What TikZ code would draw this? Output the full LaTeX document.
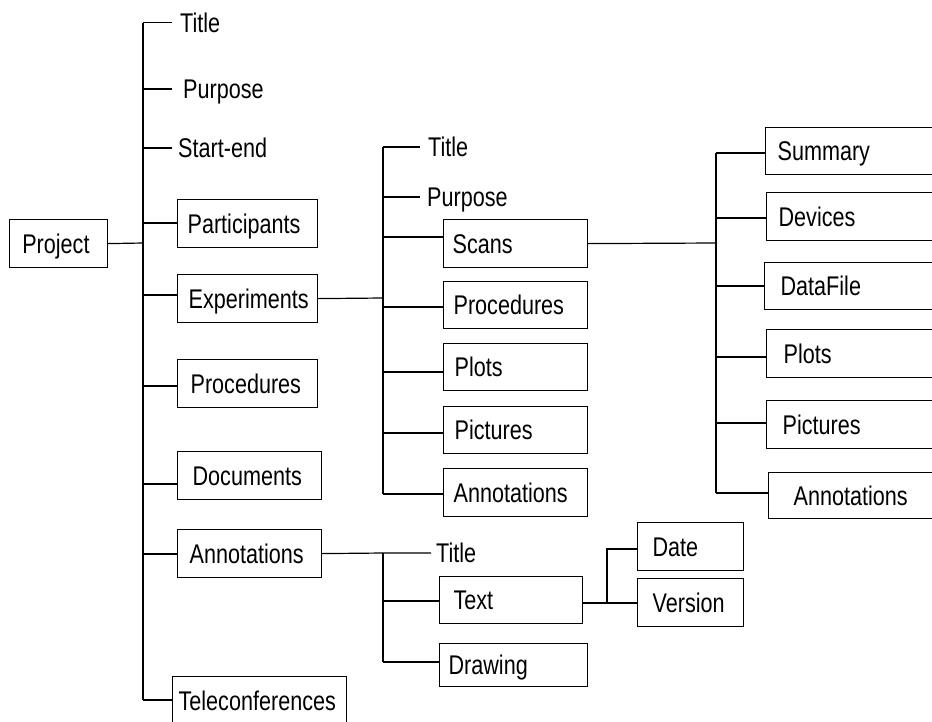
\documentclass[tikz,border=0pt]{standalone}
\usepackage{fontspec}
\setmainfont{Liberation Sans}[FakeStretch=0.8]
\begin{document}
\begin{tikzpicture}[x=1pt,y=-1pt,
  font=\fontsize{27pt}{32pt}\selectfont,
  wire/.style={line width=1.2pt},
  box/.style={draw, line width=1.2pt, rectangle, anchor=north west, align=left,
    inner ysep=0pt, text height=19.3pt, text depth=0pt},
  lbl/.style={anchor=west, inner ysep=0pt, text height=19.3pt, text depth=0pt}]
\useasboundingbox (0,0) rectangle (932,721);
\clip (0,0) rectangle (932,721);

% ---- root and first level
\node[box, minimum width=98pt, minimum height=48pt, inner xsep=12.7pt, text width=72.6pt] (project) at (9,219) {Project};

\node[lbl, inner xsep=8pt]  (title1)   at (172,22.7) {Title};
\node[lbl, inner xsep=11pt] (purpose1) at (172,89)   {Purpose};
\node[lbl, inner xsep=6pt]  (start1)   at (172,148)  {Start-end};
\node[box, minimum width=140pt, minimum height=48pt, inner xsep=10pt, text width=120pt] (participants) at (177,199) {Participants};
\node[box, minimum width=140pt, minimum height=48pt, inner xsep=11pt, text width=118pt] (experiments) at (177,274) {Experiments};
\node[box, minimum width=140pt, minimum height=48pt, inner xsep=13pt, text width=114pt] (procedures) at (177,359) {Procedures};
\node[box, minimum width=144pt, minimum height=48pt, inner xsep=15pt, text width=114pt] (documents) at (177,451) {Documents};
\node[box, minimum width=144pt, minimum height=48pt, inner xsep=12pt, text width=120pt] (annotations) at (177,529) {Annotations};
\node[box, minimum width=174pt, minimum height=48pt, inner xsep=6pt, text width=162pt] (telecon) at (172,676) {Teleconferences};

% ---- experiments subtree
\node[lbl, inner xsep=8pt] (title2)   at (420,147) {Title};
\node[lbl, inner xsep=7pt] (purpose2) at (420,197) {Purpose};
\node[box, minimum width=144pt, minimum height=48pt, inner xsep=9pt,  text width=126pt] (scans) at (443,219) {Scans};
\node[box, minimum width=144pt, minimum height=47pt, inner xsep=10pt, text width=124pt] (procedures2) at (443,281) {Procedures};
\node[box, minimum width=144pt, minimum height=47pt, inner xsep=11pt, text width=122pt] (plots2) at (443,343) {Plots};
\node[box, minimum width=144pt, minimum height=47pt, inner xsep=11pt, text width=122pt] (pictures2) at (443,406) {Pictures};
\node[box, minimum width=144pt, minimum height=48pt, inner xsep=10pt, text width=124pt] (annot2) at (443,468) {Annotations};

% ---- scans subtree
\node[box, minimum width=185pt, minimum height=47pt, inner xsep=12pt, text width=161pt] (summary) at (765,127) {Summary};
\node[box, minimum width=184pt, minimum height=48pt, inner xsep=12pt, text width=160pt] (devices) at (766,192) {Devices};
\node[box, minimum width=186pt, minimum height=47pt, inner xsep=16pt, text width=154pt] (datafile) at (764,262) {DataFile};
\node[box, minimum width=184pt, minimum height=48pt, inner xsep=17pt, text width=150pt] (plots3) at (766,329) {Plots};
\node[box, minimum width=184pt, minimum height=48pt, inner xsep=16pt, text width=152pt] (pictures3) at (766,400) {Pictures};
\node[box, minimum width=182pt, minimum height=46pt, inner xsep=25pt, text width=132pt] (annot3) at (768,472) {Annotations};

% ---- annotations subtree
\node[lbl, inner xsep=5pt] (title3) at (431,553) {Title};
\node[box, minimum width=143pt, minimum height=47pt, inner xsep=14pt, text width=115pt] (text3) at (439,576) {Text};
\node[box, minimum width=148pt, minimum height=43pt, inner xsep=9pt,  text width=130pt] (drawing) at (439,643) {Drawing};
\node[box, minimum width=106pt, minimum height=48pt, inner xsep=15pt, text width=76pt] (date) at (637,522) {Date};
\node[box, minimum width=106pt, minimum height=48pt, inner xsep=15pt, text width=76pt] (version) at (637,578) {Version};

% ---- junction points
\coordinate (mt)  at (143,22.7);
\coordinate (mp)  at (143,89);
\coordinate (ms)  at (143,148);
\coordinate (mpa) at (143,223);
\coordinate (mj)  at (143,243);
\coordinate (mx)  at (143,295);
\coordinate (mpr) at (143,386);
\coordinate (md)  at (143,484);
\coordinate (ma)  at (143,554);
\coordinate (mtc) at (143,700);

\coordinate (e0) at (383,298);
\coordinate (e1) at (383,147);
\coordinate (e2) at (383,197);
\coordinate (e3) at (383,237);
\coordinate (e4) at (383,307);
\coordinate (e5) at (383,372);
\coordinate (e6) at (383,433);
\coordinate (e7) at (383,494);

\coordinate (s0) at (716,243);
\coordinate (s1) at (716,153);
\coordinate (s2) at (716,218);
\coordinate (s3) at (716,286);
\coordinate (s4) at (716,357);
\coordinate (s5) at (716,423);
\coordinate (s6) at (716,493);

\coordinate (a1) at (383,553);
\coordinate (a2) at (383,601);
\coordinate (a3) at (383,662);

\coordinate (t0) at (607,603);
\coordinate (t1) at (607,549);

% ---- main trunk
\draw[wire] (mt) -- (mtc);
\draw[wire] (project.east) -- (mj);
\draw[wire] (mt)  -- (mt -| title1.west);
\draw[wire] (mp)  -- (mp -| purpose1.west);
\draw[wire] (ms)  -- (ms -| start1.west);
\draw[wire] (mpa) -- (mpa -| participants.west);
\draw[wire] (mx)  -- (mx -| experiments.west);
\draw[wire] (mpr) -- (mpr -| procedures.west);
\draw[wire] (md)  -- (md -| documents.west);
\draw[wire] (ma)  -- (ma -| annotations.west);
\draw[wire] (mtc) -- (mtc -| telecon.west);

% ---- experiments trunk
\draw[wire] (experiments.east) -- (e0);
\draw[wire] (e1) -- (e7);
\draw[wire] (e1) -- (e1 -| title2.west);
\draw[wire] (e2) -- (e2 -| purpose2.west);
\draw[wire] (e3) -- (e3 -| scans.west);
\draw[wire] (e4) -- (e4 -| procedures2.west);
\draw[wire] (e5) -- (e5 -| plots2.west);
\draw[wire] (e6) -- (e6 -| pictures2.west);
\draw[wire] (e7) -- (e7 -| annot2.west);

% ---- scans trunk
\draw[wire] (scans.east) -- (s0);
\draw[wire] (s1) -- (s6);
\draw[wire] (s1) -- (s1 -| summary.west);
\draw[wire] (s2) -- (s2 -| devices.west);
\draw[wire] (s3) -- (s3 -| datafile.west);
\draw[wire] (s4) -- (s4 -| plots3.west);
\draw[wire] (s5) -- (s5 -| pictures3.west);
\draw[wire] (s6) -- (s6 -| annot3.west);

% ---- annotations trunk
\draw[wire] (annotations.east) -- (a1) -- (a1 -| title3.west);
\draw[wire] (a1) -- (a3);
\draw[wire] (a2) -- (a2 -| text3.west);
\draw[wire] (a3) -- (a3 -| drawing.west);

% ---- text trunk
\draw[wire] (text3.east |- t0) -- (t0) -- (t0 -| version.west);
\draw[wire] (t0) -- (t1) -- (t1 -| date.west);
\end{tikzpicture}
\end{document}
